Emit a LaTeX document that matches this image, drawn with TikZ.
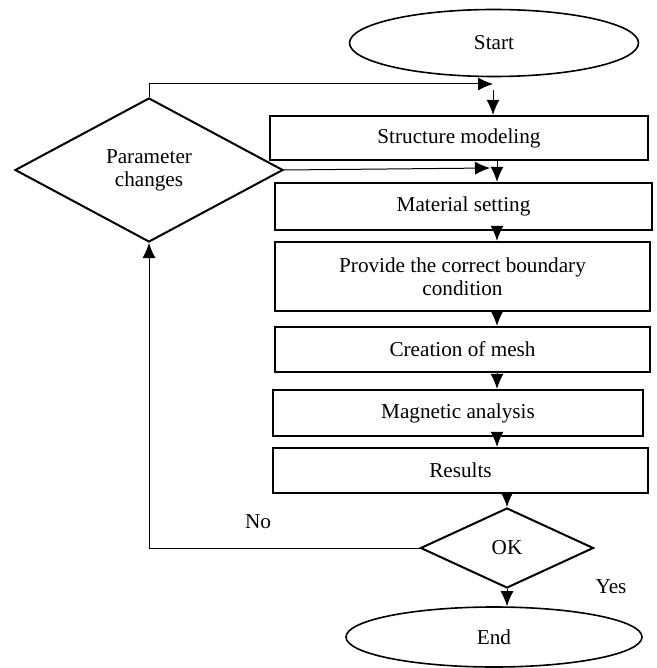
\documentclass[tikz,border=0pt]{standalone}
\usepackage{fontspec}
\setmainfont{Liberation Serif}
\usetikzlibrary{arrows.meta,shapes.geometric}

\begin{document}
\begin{tikzpicture}[x=0.5pt,y=-0.5pt,>={Latex[length=7.5pt,width=6.5pt]},font=\fontsize{10.6}{11.5}\selectfont,
  stepbox/.style={draw,line width=1.2pt,rectangle,inner sep=0pt,align=center},
  termnode/.style={draw,line width=0.8pt,ellipse,inner sep=0pt},
  decnode/.style={draw,line width=1pt,diamond,inner sep=0pt,align=center},
  flow/.style={->,line width=0.5pt}]
\useasboundingbox (0,0) rectangle (657,668);
\node[termnode,minimum width=144.5pt,minimum height=33.5pt] (start) at (494,43) {Start};
\node[stepbox,minimum width=189pt,minimum height=22pt] (sm) at (459,138) {Structure modeling};
\node[stepbox,minimum width=188.5pt,minimum height=23.5pt] (ms) at (463.5,206.5) {Material setting};
\node[stepbox,minimum width=187.5pt,minimum height=34.5pt] (bc) at (462.5,276.5) {Provide the correct boundary\\condition};
\node[stepbox,minimum width=187.5pt,minimum height=22.5pt] (cm) at (462.5,349.5) {Creation of mesh};
\node[stepbox,minimum width=185pt,minimum height=23pt] (ma) at (458,413) {Magnetic analysis};
\node[stepbox,minimum width=187.5pt,minimum height=22.5pt] (res) at (460.5,470.5) {Results};
\node[decnode,minimum width=134pt,minimum height=72pt] (pc) at (149,170) {Parameter\\changes};
\node[decnode,minimum width=86.5pt,minimum height=40pt] (ok) at (507,548) {OK};
\node[termnode,minimum width=148pt,minimum height=30pt] (end) at (494,637) {End};
\node (no) at (258,522) {No};
\node (yes) at (611,587) {Yes};

\coordinate (ax) at (497,0);
\coordinate (j1) at (493,84);
\coordinate (j1b) at (493,90);
\coordinate (j2) at (490,168);

% feedback into the model
\draw[flow] (pc.north) |- (j1);
\draw[flow] (j1b) -- (sm.north -| j1b);
\draw[flow] (pc.east) -- (j2);
\draw[flow] (sm.south -| ax) -- (ms.north -| ax);
\draw[flow] (ms.south -| ax) -- (bc.north -| ax);
\draw[flow] (bc.south -| ax) -- (cm.north -| ax);
\draw[flow] (cm.south -| ax) -- (ma.north -| ax);
\draw[flow] (ma.south -| ax) -- (res.north -| ax);
\draw[flow] (res.south -| ok.north) -- (ok.north);
\draw[flow] (ok.south) -- (end.north -| ok.south);
\draw[flow] (ok.west) -| (pc.south);
\end{tikzpicture}
\end{document}
